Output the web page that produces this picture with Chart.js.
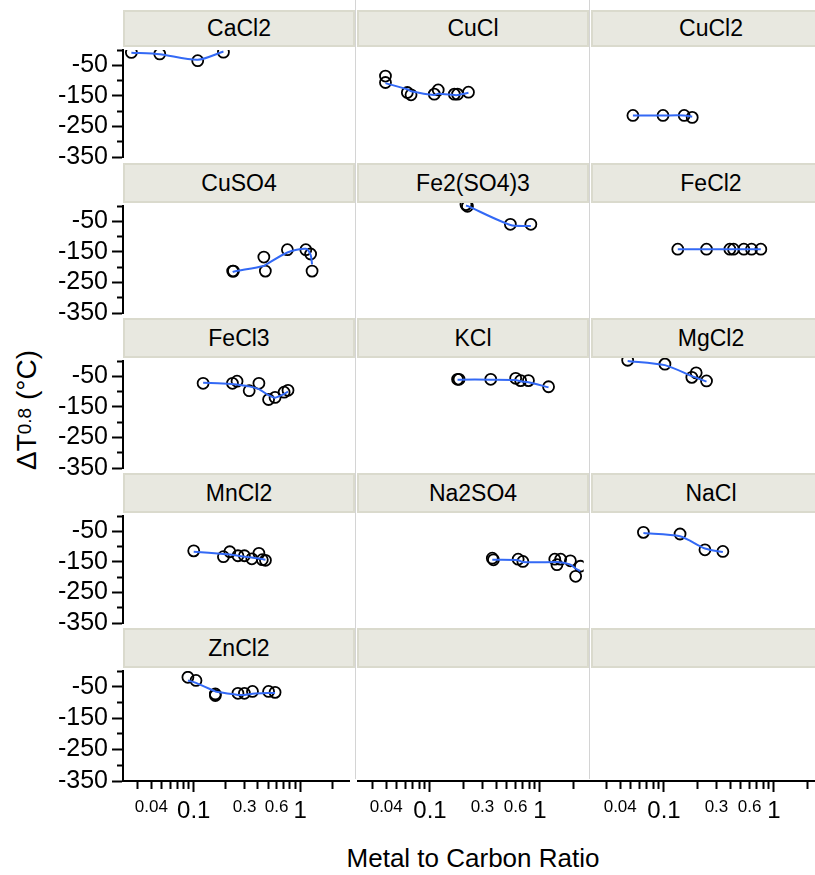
<!DOCTYPE html>
<html>
<head>
<meta charset="utf-8">
<script src="https://cdn.jsdelivr.net/npm/chart.js@4.4.0/dist/chart.umd.min.js"></script>
<style>
body { margin:0; width:815px; height:875px; overflow:hidden; background:#fff; position:relative;
       font-family:"Liberation Sans", Arial, sans-serif; }
canvas { position:absolute; }
.strip { position:absolute; background:#e8e8e0; border:2px solid #dadacd; box-sizing:border-box;
         text-align:center; font-size:23px; color:#000; z-index:2; }
.vsep { position:absolute; top:0; width:1px; height:779px; background:#d4d4d4; z-index:3; }
#ytitle { position:absolute; left:27px; top:410px; transform:translate(-50%,-50%) rotate(-90deg);
          white-space:nowrap; font-size:28px; }
#ytitle span { font-size:19px; vertical-align:5px; }
#xtitle { position:absolute; left:473px; top:845px; transform:translateX(-50%); white-space:nowrap;
          font-size:26px; line-height:26px; }
</style>
</head>
<body>
<div id="ytitle">ΔT<span>0.8</span> (°C)</div>
<div id="xtitle">Metal to Carbon Ratio</div>
<script>
// facet names, in order left-to-right, top-to-bottom
const saltNames = ['CaCl2', 'CuCl', 'CuCl2', 'CuSO4', 'Fe2(SO4)3', 'FeCl2', 'FeCl3',
                   'KCl', 'MgCl2', 'MnCl2', 'Na2SO4', 'NaCl', 'ZnCl2'];

// x = metal to carbon ratio, y = ΔT0.8 (°C), fit = smoothed line at the same x
const ratioCaCl2 = [0.026, 0.048, 0.109, 0.19];
const dtCaCl2    = [-8, -13, -35, -7];
const fitCaCl2   = [-9, -14, -32, -5];

const ratioCuCl = [0.0348, 0.0348, 0.0567, 0.0616, 0.1035, 0.113, 0.162, 0.174, 0.222];
const dtCuCl    = [-90, -110, -141, -148, -146, -133, -146, -146, -140];
const fitCuCl   = [-112, -112, -131, -137, -149, -145, -149, -149, -142];

const ratioCuCl2 = [0.047, 0.092, 0.1476, 0.1766];
const dtCuCl2    = [-212, -212, -212, -218];
const fitCuCl2   = [-212, -212, -212, -216];

const ratioCuSO4 = [0.232, 0.236, 0.455, 0.47, 0.757, 1.127, 1.25, 1.29];
const dtCuSO4    = [-213, -213, -167, -213, -143, -143, -157, -213];
const fitCuSO4   = [-216, -215, -196, -193, -152, -140, -160, -191];

const ratioFe2SO43 = [0.21, 0.217, 0.566, 0.894];
const dtFe2SO43    = [-5, -10, -66, -66];
const fitFe2SO43   = [-8, -9, -68, -71];

const ratioFeCl2 = [0.128, 0.243, 0.409, 0.444, 0.559, 0.664, 0.817];
const dtFeCl2    = [-143, -143, -143, -143, -143, -143, -143];
const fitFeCl2   = [-143, -143, -143, -143, -143, -143, -143];

const ratioFeCl3 = [0.1225, 0.231, 0.255, 0.3315, 0.409, 0.504, 0.58, 0.705, 0.767];
const dtFeCl3    = [-73, -73, -66, -97, -73, -126, -119, -102, -96];
const fitFeCl3   = [-71, -75, -77, -83, -92, -112, -120, -108, -100];

const ratioKCl = [0.174, 0.18, 0.365, 0.637, 0.711, 0.847, 1.327];
const dtKCl    = [-66, -66, -66, -63, -70, -70, -89];
const fitKCl   = [-67, -67, -67, -68, -72, -75, -91];

const ratioMgCl2 = [0.0418, 0.096, 0.175, 0.193, 0.243];
const dtMgCl2    = [-7, -19, -60, -46, -71];
const fitMgCl2   = [-9, -22, -56, -61, -73];

const ratioMnCl2 = [0.1, 0.19, 0.218, 0.26, 0.299, 0.351, 0.409, 0.44, 0.471];
const dtMnCl2    = [-114, -133, -117, -130, -130, -140, -122, -143, -145];
const fitMnCl2   = [-117, -124, -126, -130, -133, -136, -139, -141, -143];

const ratioNa2SO4 = [0.378, 0.388, 0.673, 0.748, 1.525, 1.6, 1.738, 2.16, 2.43, 2.7];
const dtNa2SO4    = [-140, -145, -143, -150, -143, -160, -143, -148, -196, -165];
const fitNa2SO4   = [-145, -145, -146, -152, -152, -152, -153, -160, -172, -180];

const ratioNaCl = [0.0594, 0.1346, 0.2347, 0.35];
const dtNaCl    = [-60, -65, -114, -119];
const fitNaCl   = [-62, -72, -110, -121];

const ratioZnCl2 = [0.0882, 0.105, 0.1595, 0.1595, 0.26, 0.299, 0.356, 0.504, 0.58];
const dtZnCl2    = [-20, -30, -73, -78, -71, -71, -65, -65, -68];
const fitZnCl2   = [-30, -38, -65, -65, -76, -76, -72, -70, -70];

// axis ticks
const xTickValues = [0.03, 0.04, 0.05, 0.06, 0.07, 0.08, 0.09, 0.1,
                     0.2, 0.3, 0.4, 0.5, 0.6, 0.7, 0.8, 0.9, 1, 2];
const xLabelValues = [0.04, 0.1, 0.3, 0.6, 1];
const xBigLabels = [0.1, 1];
const xMajorTicks = [0.1, 1];
const yTickValues = [-350, -300, -250, -200, -150, -100, -50, 0];
const yLabelValues = [-350, -250, -150, -50];

const panelData = [
    [ratioCaCl2, dtCaCl2, fitCaCl2],
    [ratioCuCl, dtCuCl, fitCuCl],
    [ratioCuCl2, dtCuCl2, fitCuCl2],
    [ratioCuSO4, dtCuSO4, fitCuSO4],
    [ratioFe2SO43, dtFe2SO43, fitFe2SO43],
    [ratioFeCl2, dtFeCl2, fitFeCl2],
    [ratioFeCl3, dtFeCl3, fitFeCl3],
    [ratioKCl, dtKCl, fitKCl],
    [ratioMgCl2, dtMgCl2, fitMgCl2],
    [ratioMnCl2, dtMnCl2, fitMnCl2],
    [ratioNa2SO4, dtNa2SO4, fitNa2SO4],
    [ratioNaCl, dtNaCl, fitNaCl],
    [ratioZnCl2, dtZnCl2, fitZnCl2]
];

// page layout
const colLeft = [123, 357, 591];
const plotW = 234;
const rowTop = [47, 203, 358, 513, 668];
const plotH = 113;
const yAxisW = 123;
const xAxisH = 50;
const pad = 16;
const xMin = Math.pow(10, -1.6636);
const xMax = Math.pow(10, -1.6636 + plotW / 110);

Chart.defaults.font.family = '"Liberation Sans", Arial, sans-serif';
Chart.defaults.color = '#000';

function near(list, v) {
    return list.some(t => Math.abs(t - v) < 1e-9);
}

function toPoints(xs, ys) {
    let pts = [];
    for (let i = 0; i < xs.length; i++) {
        pts.push({x: xs[i], y: ys[i]});
    }
    return pts;
}

function makePanel(k) {
    const row = Math.floor(k / 3);
    const col = k % 3;
    const showY = col === 0;
    const showX = row === 4;

    // strip on top of the panel
    const strip = document.createElement('div');
    strip.className = 'strip';
    const sTop = row === 0 ? 10 : rowTop[row] - 40;
    const sH = rowTop[row] - sTop;
    strip.style.left = colLeft[col] + 'px';
    strip.style.top = sTop + 'px';
    strip.style.width = (col === 2 ? 240 : 232) + 'px';
    strip.style.height = sH + 'px';
    strip.style.lineHeight = (sH - 4) + 'px';
    strip.textContent = k < saltNames.length ? saltNames[k] : '';
    document.body.appendChild(strip);

    const w = plotW + (showY ? yAxisW : 0);
    const h = pad + plotH + (showX ? xAxisH : pad);
    const cv = document.createElement('canvas');
    cv.width = w;
    cv.height = h;
    cv.style.width = w + 'px';
    cv.style.height = h + 'px';
    cv.style.left = (showY ? 0 : colLeft[col]) + 'px';
    cv.style.top = (rowTop[row] - pad) + 'px';
    document.body.appendChild(cv);

    let datasets = [];
    if (k < panelData.length) {
        const [xs, ys, fit] = panelData[k];
        datasets.push({
            type: 'line',
            data: toPoints(xs, fit),
            borderColor: '#3369f5',
            borderWidth: 2,
            pointRadius: 0,
            tension: 0.25,
            fill: false
        });
        datasets.push({
            type: 'scatter',
            data: toPoints(xs, ys),
            pointStyle: 'circle',
            pointRadius: 5.5,
            borderColor: '#000',
            borderWidth: 1.8,
            backgroundColor: 'rgba(0,0,0,0)'
        });
    }

    new Chart(cv, {
        type: 'scatter',
        data: {datasets: datasets},
        options: {
            responsive: false,
            animation: false,
            events: [],
            layout: {padding: {top: pad, bottom: showX ? 0 : pad, left: 0, right: 0}},
            plugins: {legend: {display: false}, tooltip: {enabled: false}},
            scales: {
                x: {
                    type: 'logarithmic',
                    display: showX,
                    min: xMin,
                    max: xMax,
                    afterBuildTicks: s => { s.ticks = xTickValues.map(v => ({value: v})); },
                    afterFit: s => { if (showX) s.height = xAxisH; },
                    border: {display: true, color: '#000', width: 2},
                    grid: {
                        drawOnChartArea: false,
                        tickLength: 11,
                        tickWidth: 2,
                        tickColor: '#000',
                        tickBorderDash: c => near(xMajorTicks, c.tick.value) ? [] : [7, 100]
                    },
                    ticks: {
                        autoSkip: false,
                        maxRotation: 0,
                        minRotation: 0,
                        padding: 5,
                        color: '#000',
                        font: c => ({size: near(xBigLabels, c.tick.value) ? 24 : 17}),
                        callback: v => near(xLabelValues, v) ? String(+(+v).toPrecision(3)) : ''
                    }
                },
                y: {
                    type: 'linear',
                    display: showY,
                    min: -350,
                    max: 0,
                    afterBuildTicks: s => { s.ticks = yTickValues.map(v => ({value: v})); },
                    afterFit: s => { if (showY) s.width = yAxisW; },
                    border: {display: true, color: '#000', width: 2},
                    grid: {
                        drawOnChartArea: false,
                        tickLength: 11,
                        tickWidth: 2,
                        tickColor: '#000',
                        tickBorderDash: c => near(yLabelValues, c.tick.value) ? [] : [0, 5, 6, 100]
                    },
                    ticks: {
                        autoSkip: false,
                        padding: 4,
                        color: '#000',
                        font: {size: 25},
                        callback: v => near(yLabelValues, v) ? String(v) : ''
                    }
                }
            }
        }
    });
}

for (let k = 0; k < 15; k++) {
    makePanel(k);
}

// light column separators
[355, 589].forEach(x => {
    const d = document.createElement('div');
    d.className = 'vsep';
    d.style.left = x + 'px';
    document.body.appendChild(d);
});
</script>
</body>
</html>
